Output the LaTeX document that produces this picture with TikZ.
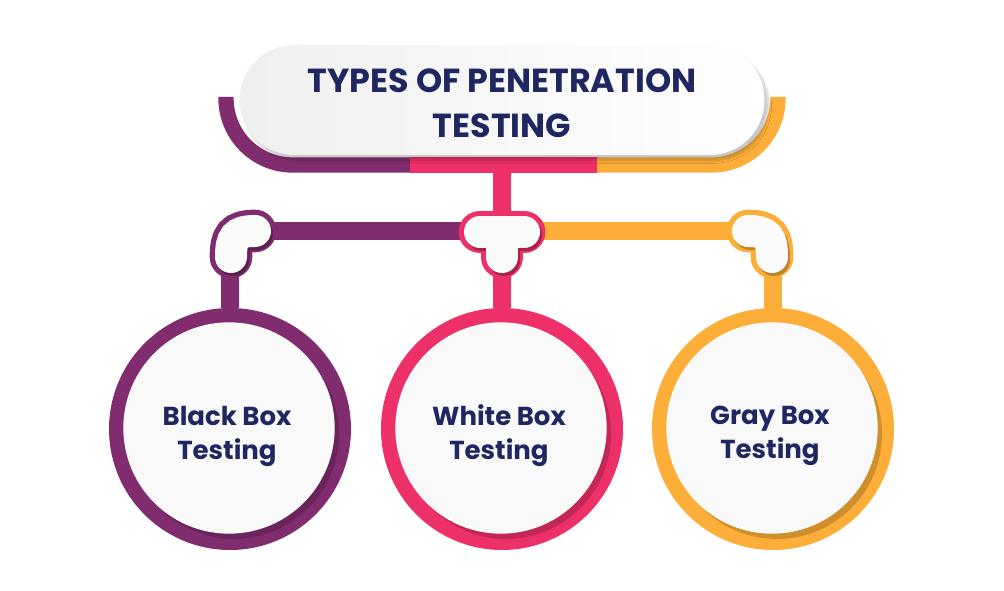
\documentclass[tikz,border=0pt]{standalone}
\usepackage{fontspec}
\setmainfont{Poppins}
\usetikzlibrary{shadows.blur}
\definecolor{cpurple}{HTML}{822C70}
\definecolor{cpink}{HTML}{EE3068}
\definecolor{corange}{HTML}{FDAE38}
\definecolor{cnavy}{HTML}{1F2760}
\begin{document}
\begin{tikzpicture}[x=0.75pt,y=-0.75pt]
\tikzstyle{band}=[line width=11.5pt]
\tikzstyle{bar}=[line width=14pt]
\tikzstyle{pill}=[rectangle,rounded corners=41pt,minimum width=393.75pt,minimum height=82.5pt,
  left color=gray!12,right color=white,
  blur shadow={shadow xshift=3pt,shadow yshift=-4pt,shadow opacity=22,shadow blur steps=8}]
\tikzstyle{ring}=[circle,minimum size=181.5pt,inner sep=0pt]
\tikzstyle{disk}=[circle,minimum size=157.5pt,inner sep=0pt,fill=white!95!gray,draw=white,line width=1pt]
\tikzstyle{label}=[text=cnavy,font=\bfseries\fontsize{19.5}{25.5}\selectfont,align=center]
\tikzstyle{joint}=[line width=32pt,line cap=round]
\tikzstyle{jointin}=[line width=24pt,line cap=round]

\useasboundingbox (0,0) rectangle (1004,591);

% band under the title
\draw[band,cpurple,rounded corners=50pt] (226,97) -- (226,165) -- (411,165);
\draw[band,cpink] (410,165) -- (598,165);
\draw[band,corange,rounded corners=50pt] (597,165) -- (778,165) -- (778,97);

\node[pill] (title) at (502,100) {};
\node[text=cnavy,font=\bfseries\fontsize{25}{33.75}\selectfont,align=center] (titletext) at (502,103)
  {TYPES OF PENETRATION\\TESTING};

\coordinate (hub) at (502,231);
\coordinate (lj) at (230,231);
\coordinate (rj) at (773,231);

\draw[bar,cpink,shorten <=9pt] (title.south) -- (hub);
\draw[bar,cpurple] (lj) -- (hub);
\draw[bar,corange] (hub) -- (rj);

\foreach \x/\c/\n/\t in {230/cpurple/black/{Black Box\\Testing},
                         502/cpink/white/{White Box\\Testing},
                         773/corange/gray/{Gray Box\\Testing}}
{
  \node[ring,fill=\c] (\n) at (\x,429) {};
  \node[circle,minimum size=157.5pt,fill=\c!65!black,opacity=0.5] at (\x+4,434) {};
  \node[disk] (\n d) at (\x-1,428) {};
  \node[label] (\n t) at (\x-3,436) {\t};
}

\draw[bar,cpurple] (lj) -- (black);
\draw[bar,cpink] (hub) -- (white);
\draw[bar,corange] (rj) -- (gray);

% joints
\draw[joint,cpurple] (255,231) .. controls (235,231) and (231,238) .. (231,257);
\draw[jointin,cpurple!70!black,shift={(2,3)}] (255,231) .. controls (235,231) and (231,238) .. (231,257);
\draw[jointin,white!96!gray] (255,231) .. controls (235,231) and (231,238) .. (231,257);

\draw[joint,corange] (748,231) .. controls (768,231) and (772,238) .. (772,257);
\draw[jointin,corange!75!black,shift={(2,3)}] (748,231) .. controls (768,231) and (772,238) .. (772,257);
\draw[jointin,white!96!gray] (748,231) .. controls (768,231) and (772,238) .. (772,257);

\draw[joint,cpink] (480,232) -- (524,232) (502,232) -- (502,257);
\draw[jointin,cpink!70!black,shift={(2,3)}] (480,232) -- (524,232) (502,232) -- (502,257);
\draw[jointin,white!96!gray] (480,232) -- (524,232) (502,232) -- (502,257);

\end{tikzpicture}
\end{document}
